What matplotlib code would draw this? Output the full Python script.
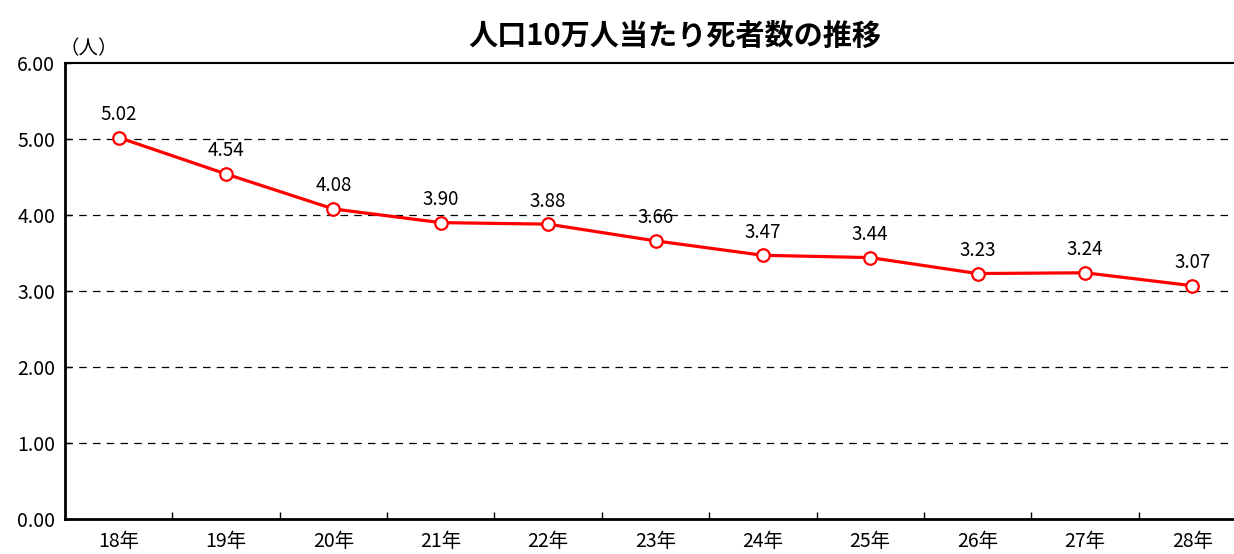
import matplotlib

matplotlib.use("Agg")
import matplotlib.pyplot as plt  # noqa: E402
from matplotlib.ticker import FixedLocator, NullFormatter  # noqa: E402

plt.rcParams["font.family"] = ["Noto Sans CJK JP", "DejaVu Sans"]

# data
years = ["18年", "19年", "20年", "21年", "22年", "23年", "24年", "25年", "26年", "27年", "28年"]
deaths_per_100k = [5.02, 4.54, 4.08, 3.90, 3.88, 3.66, 3.47, 3.44, 3.23, 3.24, 3.07]
yticks = [0, 1, 2, 3, 4, 5, 6]

fig = plt.figure(figsize=(12.34, 5.54), dpi=100)
ax = fig.add_axes((0.0527, 0.0632, 0.957, 0.823))

xs = list(range(len(years)))
ax.plot(xs, deaths_per_100k, color="#ff0000", linewidth=2.3, marker="o",
        markersize=9, markerfacecolor="white", markeredgecolor="#ff0000",
        markeredgewidth=1.6, zorder=3, clip_on=False)

for x, v in zip(xs, deaths_per_100k):
    ax.annotate(f"{v:.2f}", (x, v), xytext=(0, 9), textcoords="offset points",
                ha="center", va="bottom", fontsize=13.5)

ax.set_xlim(-0.5, len(years) - 0.5)
ax.set_ylim(0, 6)
ax.set_yticks(yticks)
ax.set_yticklabels([f"{t:.2f}" for t in yticks], fontsize=14)
ax.yaxis.set_tick_params(length=4, width=1, direction="in", pad=7)

ax.xaxis.set_major_locator(FixedLocator([i + 0.5 for i in range(len(years) - 1)]))
ax.xaxis.set_major_formatter(NullFormatter())
ax.xaxis.set_minor_locator(FixedLocator(xs))
ax.set_xticklabels(years, minor=True, fontsize=14)
ax.tick_params(axis="x", which="major", direction="in", length=5, width=1)
ax.tick_params(axis="x", which="minor", length=0, pad=9)

for t in yticks[1:-1]:
    ax.axhline(t, color="black", linewidth=0.9, linestyle=(0, (6, 5)), zorder=1)

ax.spines["left"].set_linewidth(2)
ax.spines["bottom"].set_linewidth(2)
ax.spines["top"].set_linewidth(1.5)
ax.spines["right"].set_visible(False)

ax.annotate("（人）", (0, 1), xycoords="axes fraction", xytext=(-4, 3),
            textcoords="offset points", fontsize=14, ha="left", va="bottom")

fig.text(0.547, 0.935, "人口10万人当たり死者数の推移", ha="center", va="center",
         fontsize=21, fontweight="bold")

fig.savefig("out.png", dpi=100)
